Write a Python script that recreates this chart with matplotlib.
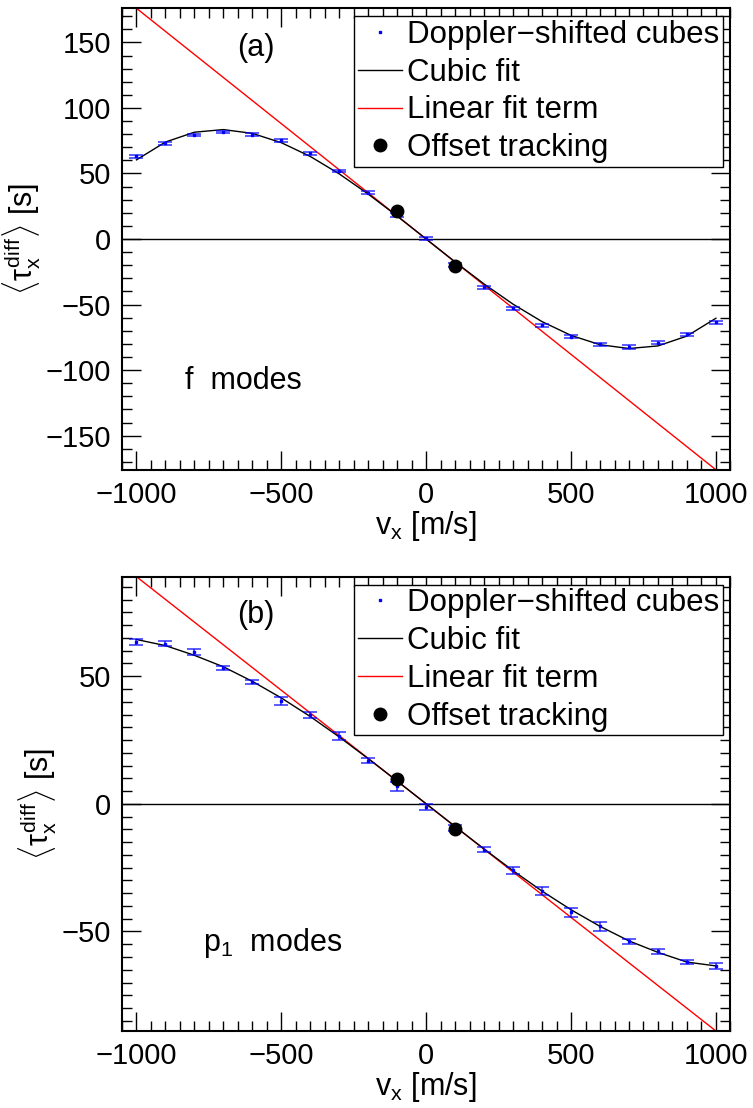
import numpy as np
import matplotlib
matplotlib.use('Agg')
import matplotlib.pyplot as plt
from matplotlib.ticker import MultipleLocator

plt.rcParams['font.family'] = ['Liberation Sans', 'DejaVu Sans']
plt.rcParams['mathtext.fontset'] = 'custom'
plt.rcParams['mathtext.rm'] = 'Liberation Sans'
plt.rcParams['mathtext.it'] = 'Liberation Sans'
plt.rcParams['mathtext.bf'] = 'Liberation Sans:bold'

# flow speeds of the shifted cubes [m/s]
vx = [-1000, -900, -800, -700, -600, -500, -400, -300, -200, -100, 0,
      100, 200, 300, 400, 500, 600, 700, 800, 900, 1000]

# f modes: mean travel-time differences [s]
tau_f = [63.2, 72.9, 79.4, 81.7, 79.7, 75.2, 65.3, 52.0, 35.3, 18.3, 0.5,
         -19.8, -36.8, -52.8, -65.8, -74.4, -80.2, -82.3, -79.0, -72.6, -63.5]
err_f = [1.2, 1.0, 1.0, 1.0, 1.0, 1.0, 1.0, 1.0, 1.0, 1.2, 1.0,
         1.2, 1.0, 1.0, 1.0, 1.0, 1.0, 1.2, 1.2, 1.0, 1.0]
cubic_f = [60.4, 74.0, 81.5, 83.5, 80.6, 73.5, 63.0, 49.7, 34.3, 17.5, 0.0,
           -17.5, -34.3, -49.7, -63.0, -73.5, -80.6, -83.5, -81.5, -74.0, -60.4]
lin_f = [176.0, -176.0]
off_v = [-100, 100]
off_f = [21.3, -20.6]

# p1 modes
tau_p = [63.4, 62.8, 59.6, 53.4, 47.9, 40.3, 34.8, 26.6, 16.9, 6.9, -1.3,
         -9.4, -17.9, -26.1, -34.1, -42.5, -47.9, -53.9, -57.8, -62.0, -63.5]
err_p = [1.0, 1.0, 1.2, 0.8, 0.8, 1.5, 1.0, 1.5, 1.0, 1.8, 1.2,
         1.2, 1.0, 1.5, 1.5, 1.8, 1.8, 1.0, 1.0, 0.8, 1.2]
cubic_p = [64.4, 62.0, 58.2, 53.7, 48.0, 41.5, 34.2, 26.2, 17.7, 8.9, 0.0,
           -8.9, -17.7, -26.2, -34.2, -41.5, -48.0, -53.7, -58.2, -62.0, -63.5]
lin_p = [89.0, -89.0]
off_p = [9.6, -9.8]

lin_v = [-1000, 1000]

fig = plt.figure(figsize=(7.53, 11.08), dpi=100)
ax1 = fig.add_axes([0.162, 0.576, 0.808, 0.4165])
ax2 = fig.add_axes([0.162, 0.0695, 0.808, 0.410])

panels = [(ax1, tau_f, err_f, cubic_f, lin_f, off_f, 176, 10, '(a)', 'f  modes', 0.104),
          (ax2, tau_p, err_p, cubic_p, lin_p, off_p, 89, 5, '(b)', r'p$_1$  modes', 0.133)]

for ax, tau, err, cub, lin, off, ylim, minor, tag, name, nx in panels:
    ax.axhline(0, color='black', lw=1.0, zorder=1)
    ax.plot(lin_v, lin, color='red', lw=1.0, label='Linear fit term', zorder=2)
    ax.plot(vx, cub, color='black', lw=1.0, label='Cubic fit', zorder=3)
    ax.errorbar(vx, tau, yerr=err, fmt='none', ecolor='blue', elinewidth=1.2,
                capsize=5, capthick=1.2, alpha=0.75, zorder=4)
    ax.plot(vx, tau, ls='none', marker='s', ms=2, color='blue',
            label='Doppler\u2212shifted cubes', zorder=5)
    ax.plot(off_v, off, ls='none', marker='o', ms=9, color='black',
            label='Offset tracking', zorder=6)

    ax.set_xlim(-1050, 1050)
    ax.set_ylim(-ylim, ylim)
    ax.xaxis.set_major_locator(MultipleLocator(500))
    ax.xaxis.set_minor_locator(MultipleLocator(50))
    ax.yaxis.set_major_locator(MultipleLocator(50))
    ax.yaxis.set_minor_locator(MultipleLocator(minor))
    ax.tick_params(which='both', direction='in', top=True, right=True,
                   labelsize=21, width=1.0)
    ax.tick_params(which='major', length=14, pad=8)
    ax.tick_params(which='minor', length=7)
    for s in ax.spines.values():
        s.set_linewidth(1.5)

    ax.set_xlabel(r'v$_{\rm x}$ [m/s]', fontsize=22, labelpad=0)
    ax.set_ylabel(r'$\langle\tau_{\rm x}^{\rm diff}\rangle$ [s]', fontsize=22, labelpad=2)

    ax.text(0.22, 0.915, tag, transform=ax.transAxes, fontsize=22,
            ha='center', va='center')
    ax.text(nx, 0.175, name, transform=ax.transAxes, fontsize=22,
            ha='left', va='baseline')

    handles, labels = ax.get_legend_handles_labels()
    order = [2, 1, 0, 3]
    leg = ax.legend([handles[i] for i in order], [labels[i] for i in order],
                    loc='upper right', fontsize=22.5, frameon=True, fancybox=False,
                    edgecolor='black', framealpha=1, handlelength=1.4,
                    handletextpad=0.15, labelspacing=0.25, borderpad=0.12,
                    borderaxespad=0.25, markerscale=1.0)
    leg.get_frame().set_linewidth(1.0)

fig.savefig('out.png', dpi=100)
